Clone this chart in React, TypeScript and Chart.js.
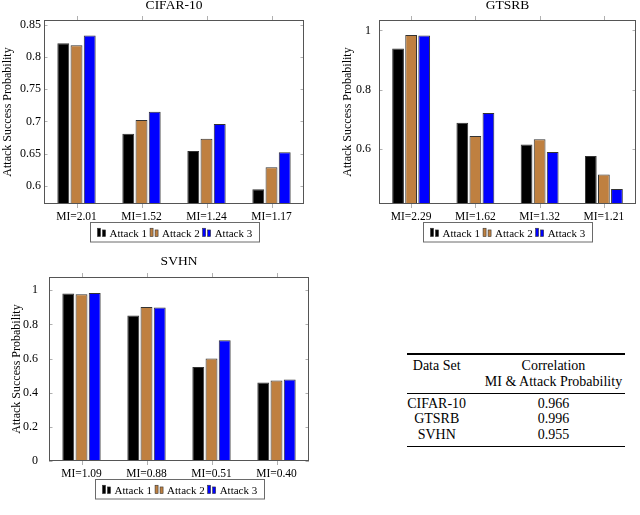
import React, { useEffect, useRef } from "react";
import { Chart, registerables } from "chart.js";

Chart.register(...registerables);

// ---------- data ----------
const seriesNames = ["Attack 1", "Attack 2", "Attack 3"];
const seriesColors = ["#000000", "#bf8040", "#0000ff"];
const yAxisTitle = "Attack Success Probability";

const cifarTitle = "CIFAR-10";
const cifarLabels = ["MI=2.01", "MI=1.52", "MI=1.24", "MI=1.17"];
const cifarAttack1 = [0.821, 0.681, 0.654, 0.595];
const cifarAttack2 = [0.818, 0.702, 0.673, 0.629];
const cifarAttack3 = [0.833, 0.715, 0.696, 0.652];
const cifarTicks = [0.6, 0.65, 0.7, 0.75, 0.8, 0.85];
const cifarTickLabels = ["0.6", "0.65", "0.7", "0.75", "0.8", "0.85"];

const gtsrbTitle = "GTSRB";
const gtsrbLabels = ["MI=2.29", "MI=1.62", "MI=1.32", "MI=1.21"];
const gtsrbAttack1 = [0.939, 0.688, 0.614, 0.575];
const gtsrbAttack2 = [0.984, 0.643, 0.632, 0.513];
const gtsrbAttack3 = [0.983, 0.721, 0.589, 0.464];
const gtsrbTicks = [0.6, 0.8, 1];
const gtsrbTickLabels = ["0.6", "0.8", "1"];

const svhnTitle = "SVHN";
const svhnLabels = ["MI=1.09", "MI=0.88", "MI=0.51", "MI=0.40"];
const svhnAttack1 = [0.981, 0.852, 0.55, 0.46];
const svhnAttack2 = [0.977, 0.902, 0.601, 0.471];
const svhnAttack3 = [0.984, 0.899, 0.708, 0.478];
const svhnTicks = [0, 0.2, 0.4, 0.6, 0.8, 1];
const svhnTickLabels = ["0", "0.2", "0.4", "0.6", "0.8", "1"];

const tableHeader1 = "Data Set";
const tableHeader2 = ["Correlation", "MI & Attack Probability"];
const tableDatasets = ["CIFAR-10", "GTSRB", "SVHN"];
const tableCorrelations = ["0.966", "0.996", "0.955"];

const SERIF = '"Liberation Serif", "Times New Roman", serif';

// ---------- plugins ----------
const framePlugin = {
  id: "pgfFrame",
  afterDatasetsDraw(chart: any) {
    const { ctx, chartArea } = chart;
    const { left, right, top, bottom } = chartArea;
    const yScale = chart.scales.y;
    const xScale = chart.scales.x;
    ctx.save();
    // tick marks
    ctx.strokeStyle = "#b0b0b0";
    ctx.lineWidth = 1;
    yScale.ticks.forEach((t: any) => {
      const py = Math.round(yScale.getPixelForValue(t.value)) + 0.5;
      ctx.beginPath();
      ctx.moveTo(left, py);
      ctx.lineTo(left + 3.5, py);
      ctx.moveTo(right, py);
      ctx.lineTo(right - 3.5, py);
      ctx.stroke();
    });
    chart.data.labels.forEach((_: any, i: number) => {
      const px = Math.round(xScale.getPixelForValue(i)) + 0.5;
      ctx.beginPath();
      ctx.moveTo(px, top);
      ctx.lineTo(px, top - 4);
      ctx.moveTo(px, bottom);
      ctx.lineTo(px, bottom + 4);
      ctx.stroke();
    });
    // frame
    ctx.strokeStyle = "#555555";
    ctx.lineWidth = 1;
    ctx.strokeRect(
      Math.round(left) + 0.5,
      Math.round(top) + 0.5,
      Math.round(right - left) - 1,
      Math.round(bottom - top) - 1
    );
    ctx.restore();
  },
};

const titleLegendPlugin = {
  id: "pgfTitleLegend",
  afterDraw(chart: any, _args: any, opts: any) {
    const { ctx, chartArea } = chart;
    const cx = (chartArea.left + chartArea.right) / 2;
    ctx.save();
    // title
    ctx.fillStyle = "#000";
    ctx.font = `13.5px ${SERIF}`;
    ctx.textAlign = "center";
    ctx.textBaseline = "middle";
    ctx.fillText(opts.title, cx, chartArea.top - opts.titleOffset);

    // legend
    ctx.font = `11px ${SERIF}`;
    ctx.textAlign = "left";
    ctx.textBaseline = "alphabetic";
    const ds = chart.data.datasets;
    const iconW = 8;
    const iconGap = 4;
    const itemGap = 3;
    const pad = 7;
    const widths = ds.map((d: any) => ctx.measureText(d.label).width);
    let total = pad * 2 + itemGap * (ds.length - 1);
    widths.forEach((w: number) => (total += iconW + iconGap + w));
    const boxLeft = Math.round(cx - total / 2) + 0.5;
    const boxTop = Math.round(chartArea.bottom + opts.legendOffset) + 0.5;
    const boxH = opts.legendHeight;
    ctx.strokeStyle = "#6a6a6a";
    ctx.lineWidth = 1;
    ctx.strokeRect(boxLeft, boxTop, Math.round(total), boxH);
    const base = boxTop + boxH / 2 + 4.3;
    let x = boxLeft + pad;
    ds.forEach((d: any, i: number) => {
      ctx.fillStyle = d.backgroundColor;
      ctx.strokeStyle = "#333";
      ctx.lineWidth = 0.6;
      ctx.fillRect(x, base - 8.3, 3, 8.3);
      ctx.strokeRect(x, base - 8.3, 3, 8.3);
      ctx.fillRect(x + 5, base - 6.6, 3, 6.6);
      ctx.strokeRect(x + 5, base - 6.6, 3, 6.6);
      ctx.fillStyle = "#000";
      ctx.fillText(d.label, x + iconW + iconGap, base);
      x += iconW + iconGap + widths[i] + itemGap;
    });
    ctx.restore();
  },
};

// ---------- chart component ----------
type BarProps = {
  title: string;
  labels: string[];
  series: number[][];
  yMin: number;
  yMax: number;
  ticks: number[];
  tickLabels: string[];
  left: number;
  top: number;
  width: number;
  height: number;
  padTop: number;
  padRight: number;
  yWidth: number;
  xHeight: number;
  yTitlePad: number;
  yTickPad: number;
  titleOffset: number;
};

function BarChart(p: BarProps) {
  const ref = useRef<HTMLCanvasElement | null>(null);
  useEffect(() => {
    if (!ref.current) return;
    const chart = new Chart(ref.current, {
      type: "bar",
      data: {
        labels: p.labels,
        datasets: p.series.map((vals, i) => ({
          label: seriesNames[i],
          data: vals,
          backgroundColor: seriesColors[i],
          borderColor: "#333333",
          borderWidth: 1,
          categoryPercentage: 0.61,
          barPercentage: 0.9,
        })),
      },
      options: {
        responsive: false,
        animation: false,
        devicePixelRatio: 1,
        layout: { padding: { left: 0, right: p.padRight, top: p.padTop, bottom: 0 } },
        plugins: {
          legend: { display: false },
          tooltip: { enabled: false },
          title: { display: false },
          pgfTitleLegend: {
            title: p.title,
            titleOffset: p.titleOffset,
            legendOffset: 18,
            legendHeight: 19.5,
          },
        } as any,
        scales: {
          x: {
            grid: { display: false, drawTicks: false },
            border: { display: false },
            ticks: {
              color: "#000",
              font: { family: SERIF, size: 11.5 },
              padding: 6.5,
              maxRotation: 0,
              autoSkip: false,
            },
            afterFit: (s: any) => {
              s.height = p.xHeight;
            },
          },
          y: {
            min: p.yMin,
            max: p.yMax,
            grid: { display: false, drawTicks: false },
            border: { display: false },
            afterBuildTicks: (s: any) => {
              s.ticks = p.ticks.map((v) => ({ value: v }));
            },
            ticks: {
              color: "#000",
              font: { family: SERIF, size: 12 },
              padding: p.yTickPad,
              callback: (v: any) => {
                const i = p.ticks.findIndex((t) => Math.abs(t - Number(v)) < 1e-9);
                return i >= 0 ? p.tickLabels[i] : "";
              },
            },
            title: {
              display: true,
              text: yAxisTitle,
              color: "#000",
              font: { family: SERIF, size: 12 },
              padding: { top: p.yTitlePad, bottom: 0 },
            },
            afterFit: (s: any) => {
              s.width = p.yWidth;
            },
          },
        },
      },
      plugins: [framePlugin, titleLegendPlugin],
    } as any);
    return () => chart.destroy();
  }, []);
  return (
    <canvas
      ref={ref}
      width={p.width}
      height={p.height}
      style={{ position: "absolute", left: p.left, top: p.top, width: p.width, height: p.height }}
    />
  );
}

// ---------- table ----------
function CorrTable() {
  const text: React.CSSProperties = {
    position: "absolute",
    fontFamily: SERIF,
    fontSize: 14,
    lineHeight: "16px",
    color: "#000",
    textAlign: "center",
    whiteSpace: "nowrap",
    width: 180,
  };
  const c1 = 436.7 - 90;
  const c2 = 553.5 - 90;
  const rule = (top: number, h: number): React.CSSProperties => ({
    position: "absolute",
    left: 406.5,
    width: 218.5,
    top,
    height: h,
    background: "#000",
  });
  return (
    <>
      <div style={rule(353.4, 1.3)} />
      <div style={{ ...text, left: c1, top: 357.7 }}>{tableHeader1}</div>
      <div style={{ ...text, left: c2, top: 357.7 }}>{tableHeader2[0]}</div>
      <div style={{ ...text, left: c2, top: 373.6 }}>{tableHeader2[1]}</div>
      <div style={rule(392.9, 0.9)} />
      {tableDatasets.map((d, i) => (
        <React.Fragment key={d}>
          <div style={{ ...text, left: c1, top: 395.9 + i * 15.35 }}>{d}</div>
          <div style={{ ...text, left: c2, top: 395.9 + i * 15.35 }}>{tableCorrelations[i]}</div>
        </React.Fragment>
      ))}
      <div style={rule(446.1, 1.3)} />
    </>
  );
}

export default function App() {
  return (
    <div
      style={{
        position: "absolute",
        left: 0,
        top: 0,
        width: 640,
        height: 515,
        background: "#fff",
        overflow: "hidden",
      }}
    >
      <BarChart
        title={cifarTitle}
        labels={cifarLabels}
        series={[cifarAttack1, cifarAttack2, cifarAttack3]}
        yMin={0.572}
        yMax={0.857}
        ticks={cifarTicks}
        tickLabels={cifarTickLabels}
        left={0}
        top={0}
        width={320}
        height={250}
        padTop={20}
        padRight={16}
        yWidth={44}
        xHeight={46}
        yTitlePad={0.5}
        yTickPad={3}
        titleOffset={14.5}
      />
      <BarChart
        title={gtsrbTitle}
        labels={gtsrbLabels}
        series={[gtsrbAttack1, gtsrbAttack2, gtsrbAttack3]}
        yMin={0.413}
        yMax={1.035}
        ticks={gtsrbTicks}
        tickLabels={gtsrbTickLabels}
        left={320}
        top={0}
        width={320}
        height={250}
        padTop={20}
        padRight={4}
        yWidth={59}
        xHeight={46}
        yTitlePad={20.3}
        yTickPad={8}
        titleOffset={14.5}
      />
      <BarChart
        title={svhnTitle}
        labels={svhnLabels}
        series={[svhnAttack1, svhnAttack2, svhnAttack3]}
        yMin={0}
        yMax={1.078}
        ticks={svhnTicks}
        tickLabels={svhnTickLabels}
        left={0}
        top={250}
        width={320}
        height={265}
        padTop={27}
        padRight={11}
        yWidth={49}
        xHeight={54}
        yTitlePad={10}
        yTickPad={11}
        titleOffset={15.7}
      />
      <CorrTable />
    </div>
  );
}
